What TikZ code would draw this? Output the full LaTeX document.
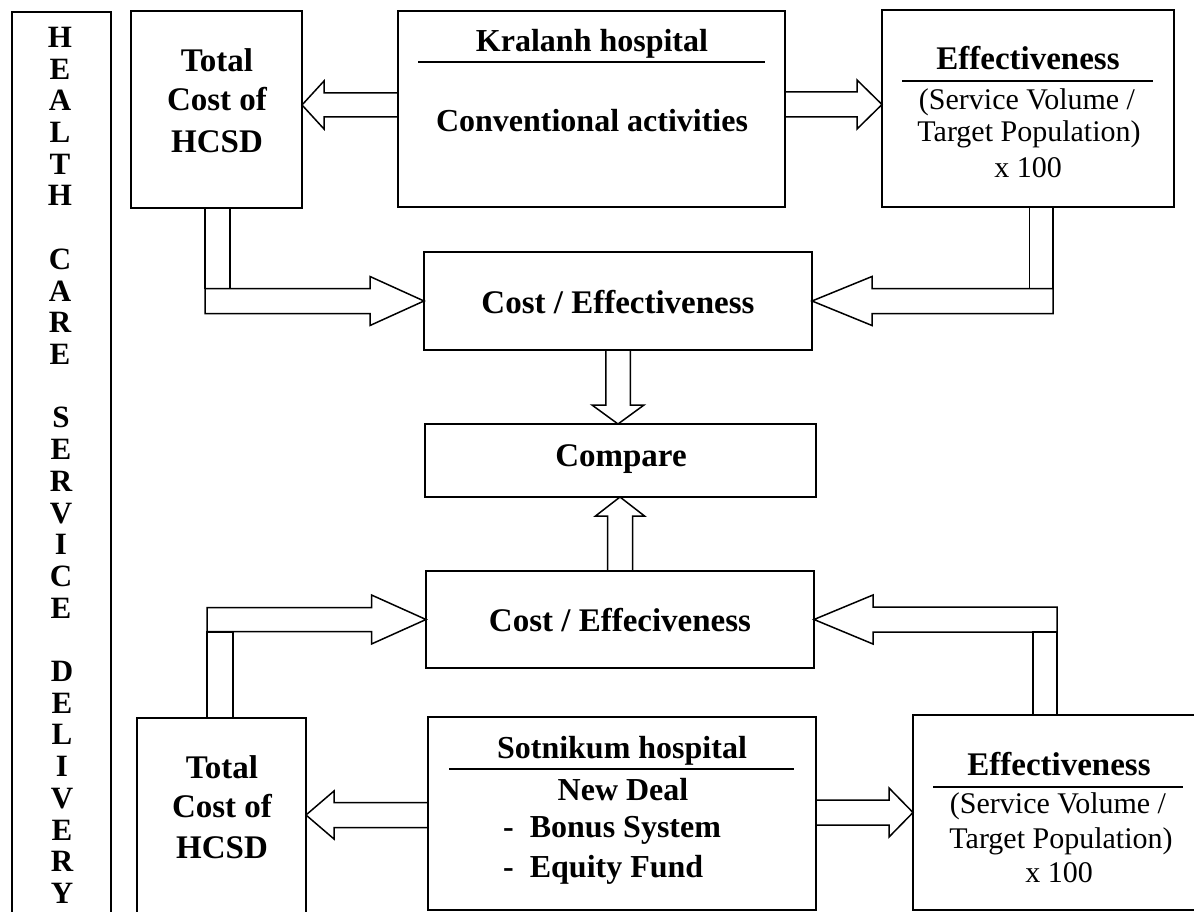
\documentclass[tikz,border=0pt]{standalone}
\usepackage{fontspec}
\setmainfont{Liberation Serif}
\usetikzlibrary{calc}
\tikzset{
  box/.style={draw, line width=1.8pt, inner sep=0pt, outer sep=0pt, anchor=north west},
  bt/.style={font=\fontsize{33}{38}\selectfont\bfseries, anchor=base, inner sep=0pt},
  btl/.style={font=\fontsize{32}{38}\selectfont\bfseries, anchor=base, inner sep=0pt},
  btw/.style={font=\fontsize{32}{38}\selectfont\bfseries, anchor=base west, inner sep=0pt},
  rt/.style={font=\fontsize{30}{34}\selectfont, anchor=base, inner sep=0pt},
  vl/.style={font=\fontsize{31}{32}\selectfont\bfseries, anchor=base, inner sep=0pt},
  rule/.style={line width=1.4pt},
  barrow/.style={draw, line width=1.5pt, line join=miter},
}
\newcommand\blockarr[6]{%
  \coordinate (#6-s) at (#1);
  \coordinate (#6-t) at (#2);
  \coordinate (#6-b) at ($(#6-t)!#5!(#6-s)$);
  \draw[barrow] ($(#6-s)!#3!90:(#6-t)$) -- ($(#6-b)!#3!90:(#6-t)$) -- ($(#6-b)!#4!90:(#6-t)$) -- (#6-t)
     -- ($(#6-b)!#4!-90:(#6-t)$) -- ($(#6-b)!#3!-90:(#6-t)$) -- ($(#6-s)!#3!-90:(#6-t)$) -- cycle;
}
\begin{document}
\begin{tikzpicture}[x=1pt,y=-1pt]
\useasboundingbox (0,0) rectangle (1194,912);
\clip (0,0) rectangle (1194,912);

% ---------- boxes ----------
\node[box, minimum width=99pt,  minimum height=930pt] (hcsd) at (12,12) {};
\node[box, minimum width=171pt, minimum height=197pt] (tc1) at (131,11) {};
\node[box, minimum width=387pt, minimum height=196pt] (k1)  at (398,11) {};
\node[box, minimum width=292pt, minimum height=197pt] (e1)  at (882,10) {};
\node[box, minimum width=388pt, minimum height=98pt]  (ce1) at (424,252) {};
\node[box, minimum width=391pt, minimum height=73pt]  (cmp) at (425,424) {};
\node[box, minimum width=388pt, minimum height=97pt]  (ce2) at (426,571) {};
\node[box, minimum width=169pt, minimum height=220pt] (tc2) at (137,718) {};
\node[box, minimum width=388pt, minimum height=193pt] (s2)  at (428,717) {};
\node[box, minimum width=300pt, minimum height=195pt] (e2)  at (913,715) {};

% ---------- vertical title ----------
\foreach \l [count=\i from 0] in {H,E,A,L,T,H}
  \node[vl] (wa\i) at (60,{47.5+31.7*\i}) {\l};
\foreach \l [count=\i from 7] in {C,A,R,E}
  \node[vl] (wb\i) at (60,{47.5+31.7*\i}) {\l};
\foreach \l [count=\i from 12] in {S,E,R,V,I,C,E}
  \node[vl] (wc\i) at (61,{47.5+31.7*\i}) {\l};
\foreach \l [count=\i from 20] in {D,E,L,I,V,E,R,Y}
  \node[vl] (wd\i) at (62,{47.5+31.7*\i}) {\l};

% ---------- texts ----------
\node[bt] (tc1a) at (217,72)  {Total};
\node[bt] (tc1b) at (217,111) {Cost of};
\node[bt] (tc1c) at (217,153) {HCSD};

\node[btl] (k1a) at (592,52)  {Kralanh hospital};
\draw[rule] (418,62) -- (765,62);
\node[btl] (k1b) at (592,132) {Conventional activities};

\node[bt] (e1a) at (1028,70)  {Effectiveness};
\draw[rule] (902,81) -- (1153,81);
\node[rt] (e1b) at (1027,110) {(Service Volume /};
\node[rt] (e1c) at (1029,142) {Target Population)};
\node[rt] (e1d) at (1028,178) {x 100};

\node[bt] (ce1a) at (618,313) {Cost / Effectiveness};
\node[bt] (cmpa) at (621,466) {Compare};
\node[bt] (ce2a) at (620,631) {Cost / Effeciveness};

\node[bt] (tc2a) at (222,778) {Total};
\node[bt] (tc2b) at (222,817) {Cost of};
\node[bt] (tc2c) at (222,858) {HCSD};

\node[btl] (s2a) at (622,758) {Sotnikum hospital};
\draw[rule] (449,769) -- (794,769);
\node[btl] (s2b) at (623,800) {New Deal};
\node[btw] (s2c) at (503,837) {-\hspace{16pt}Bonus System};
\node[btw] (s2d) at (503,877) {-\hspace{16pt}Equity Fund};

\node[bt] (e2a) at (1059,775) {Effectiveness};
\draw[rule] (933,787) -- (1183,787);
\node[rt] (e2b) at (1058,813) {(Service Volume /};
\node[rt] (e2c) at (1061,848) {Target Population)};
\node[rt] (e2d) at (1059,882) {x 100};

% ---------- block arrows ----------
\blockarr{k1.west |- 0,105}{tc1.east |- 0,105}{12pt}{24pt}{22pt}{a1}
\blockarr{k1.east |- 0,104.5}{e1.west |- 0,104.5}{12.5pt}{24.5pt}{25pt}{a2}

% L: tc1 -> ce1
\draw[barrow] ($(tc1.south)+(-11.5,0)$) rectangle ($(tc1.south |- ce1.west)+(13.5,-12.5)$);
\blockarr{$(tc1.south |- ce1.west)+(-11.5,0)$}{ce1.west}{12.5pt}{24.5pt}{54pt}{l1}

% L: e1 -> ce1
\draw[barrow] ($(e1.south)+(1.5,0)$) rectangle ($(e1.south |- ce1.east)+(25,-12.5)$);
\blockarr{$(e1.south |- ce1.east)+(25,0)$}{ce1.east}{12.5pt}{24.5pt}{60pt}{l2}

% ce1 -> compare, ce2 -> compare
\blockarr{ce1.south}{ce1.south |- cmp.north}{12.25pt}{26pt}{19pt}{d1}
\blockarr{ce2.north}{ce2.north |- cmp.south}{12.5pt}{24.5pt}{19pt}{u1}

% L: tc2 -> ce2
\draw[barrow] ($(tc2.north)+(-14.5,0)$) rectangle ($(tc2.north |- ce2.west)+(11.5,12.5)$);
\blockarr{$(tc2.north |- ce2.west)+(-14.5,0)$}{ce2.west}{12pt}{24.5pt}{54.5pt}{l3}

% L: e2 -> ce2
\draw[barrow] ($(e2.north west)+(120,0)$) rectangle ($(e2.north west |- ce2.east)+(144,12.5)$);
\blockarr{$(e2.north west |- ce2.east)+(144,0)$}{ce2.east}{12.5pt}{24.5pt}{59pt}{l4}

\blockarr{s2.west |- 0,815}{tc2.east |- 0,815}{12.5pt}{24pt}{28pt}{a3}
\blockarr{s2.east |- 0,812.5}{e2.west |- 0,812.5}{12.5pt}{24.5pt}{24pt}{a4}
\end{tikzpicture}
\end{document}
